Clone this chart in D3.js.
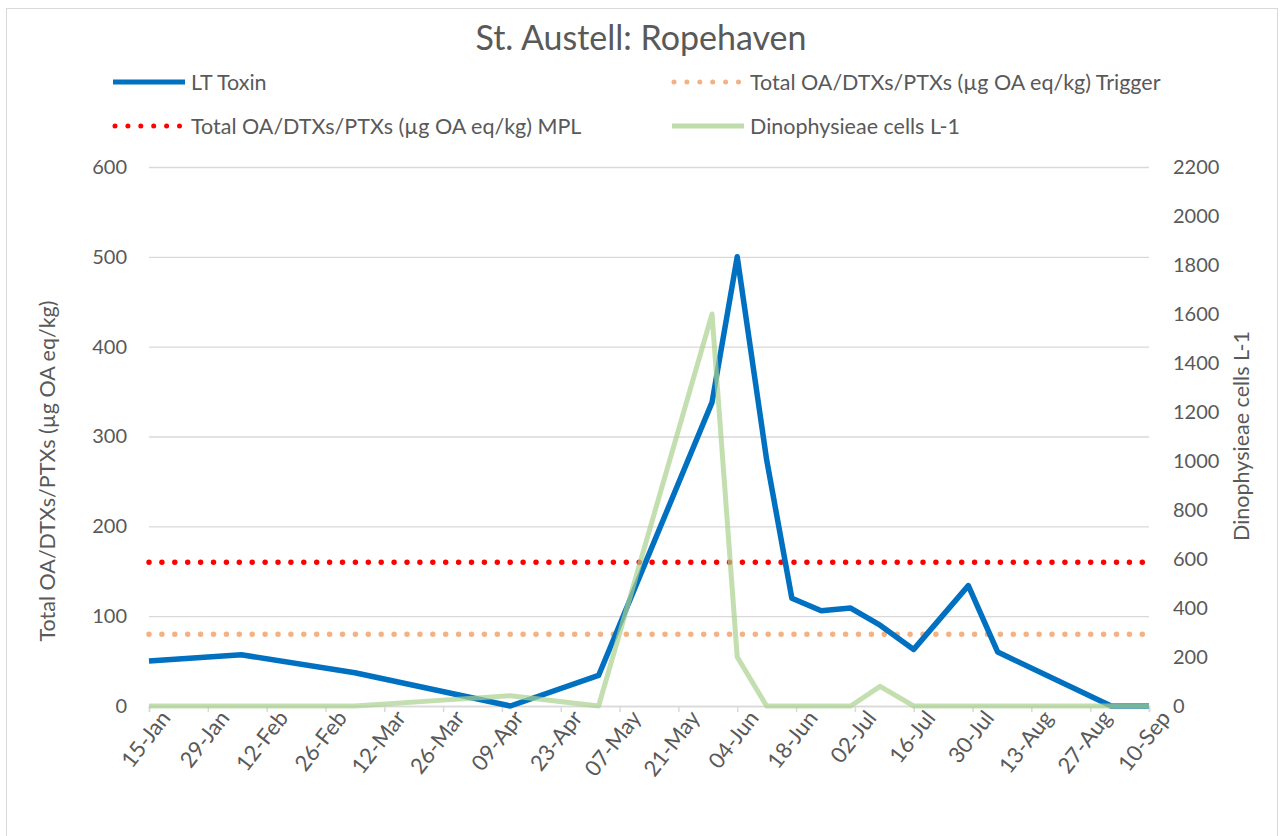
<!DOCTYPE html>
<html>
<head>
<meta charset="utf-8">
<script src="https://cdn.jsdelivr.net/npm/d3@7"></script>
<style>
  body { margin: 0; background: #fff; }
  text { font-family: Lato, "Open Sans", sans-serif; }
</style>
</head>
<body>
<div id="chart"></div>
<script>
// sample dates and values
var sampleDates = ["2021-01-15", "2021-02-06", "2021-03-05", "2021-03-27", "2021-04-11", "2021-05-02",
    "2021-05-29", "2021-06-04", "2021-06-11", "2021-06-17", "2021-06-24", "2021-07-01",
    "2021-07-08", "2021-07-16", "2021-07-29", "2021-08-05", "2021-09-01", "2021-09-10"];
var ltToxin = [50, 57, 37, 15, 0, 34, 338, 500, 274, 120, 106, 109, 90, 63, 134, 60, 0, 0];
var dinoCells = [0, 0, 0, 25, 42, 0, 1600, 200, 0, 0, 0, 0, 80, 0, 0, 0, 0, 0];
var triggerLevel = 80;
var mplLevel = 160;
var tickDates = ["2021-01-15", "2021-01-29", "2021-02-12", "2021-02-26", "2021-03-12", "2021-03-26",
    "2021-04-09", "2021-04-23", "2021-05-07", "2021-05-21", "2021-06-04", "2021-06-18",
    "2021-07-02", "2021-07-16", "2021-07-30", "2021-08-13", "2021-08-27", "2021-09-10"];
var leftTicks = [0, 100, 200, 300, 400, 500, 600];
var rightTicks = [0, 200, 400, 600, 800, 1000, 1200, 1400, 1600, 1800, 2000, 2200];

var W = 1282, H = 836;
var margin = { top: 167, right: 133, bottom: 130, left: 149 },
    width = W - margin.left - margin.right,
    height = H - margin.top - margin.bottom;

var parse = d3.timeParse("%Y-%m-%d");
var data = sampleDates.map(function (d, i) {
    return { date: parse(d), toxin: ltToxin[i], cells: dinoCells[i] };
});

var svg = d3.select("#chart").append("svg")
    .attr("width", W)
    .attr("height", H);

// chart frame
svg.append("rect")
    .attr("x", 6.5).attr("y", 8.5)
    .attr("width", 1271).attr("height", 840)
    .attr("fill", "#fff")
    .attr("stroke", "#d9d9d9");

var g = svg.append("g")
    .attr("transform", "translate(" + margin.left + "," + margin.top + ")");

// scales
var x = d3.scaleTime()
    .domain([parse(tickDates[0]), parse(tickDates[tickDates.length - 1])])
    .range([0, width]);
var y = d3.scaleLinear().domain([0, 600]).range([height, 0]);
var y2 = d3.scaleLinear().domain([0, 2200]).range([height, 0]);

// gridlines
g.append("g")
    .call(d3.axisLeft(y).tickValues(leftTicks).tickSize(-width).tickFormat(""))
    .call(function (s) { s.select(".domain").remove(); })
    .selectAll(".tick line").attr("stroke", "#d9d9d9").attr("stroke-width", 1.3);

// left axis labels
g.append("g")
    .call(d3.axisLeft(y).tickValues(leftTicks).tickSize(0).tickPadding(22))
    .call(function (s) { s.select(".domain").remove(); })
    .selectAll("text")
    .attr("fill", "#595959")
    .style("font-size", "20px");

// right axis labels
g.append("g")
    .attr("transform", "translate(" + width + ",0)")
    .call(d3.axisRight(y2).tickValues(rightTicks).tickSize(0).tickPadding(24).tickFormat(d3.format("d")))
    .call(function (s) { s.select(".domain").remove(); })
    .selectAll("text")
    .attr("fill", "#595959")
    .style("font-size", "20px");

// x axis
var xAxis = g.append("g")
    .attr("transform", "translate(0," + height + ")")
    .call(d3.axisBottom(x)
        .tickValues(tickDates.map(parse))
        .tickSize(6)
        .tickFormat(d3.timeFormat("%d-%b")));
xAxis.select(".domain").attr("stroke", "#d9d9d9").attr("stroke-width", 1.5);
xAxis.selectAll(".tick line").attr("stroke", "#d9d9d9").attr("stroke-width", 1.5);
xAxis.selectAll("text")
    .attr("fill", "#595959")
    .style("font-size", "22px")
    .attr("text-anchor", "end")
    .attr("dy", "0.35em")
    .attr("transform", "translate(9,2) rotate(-52)");

// threshold lines
function hline(val, color) {
    g.append("line")
        .attr("x1", 0).attr("x2", width)
        .attr("y1", y(val)).attr("y2", y(val))
        .attr("stroke", color)
        .attr("stroke-width", 5.5)
        .attr("stroke-linecap", "round")
        .attr("stroke-dasharray", "0,12.9");
}
hline(triggerLevel, "#f4b183");
hline(mplLevel, "#ff0000");

// series lines
var lineToxin = d3.line()
    .x(function (d) { return x(d.date); })
    .y(function (d) { return y(d.toxin); });
var lineCells = d3.line()
    .x(function (d) { return x(d.date); })
    .y(function (d) { return y2(d.cells); });

g.append("path")
    .datum(data)
    .attr("d", lineToxin)
    .attr("fill", "none")
    .attr("stroke", "#0070c0")
    .attr("stroke-width", 5.5)
    .attr("stroke-linejoin", "round");

g.append("path")
    .datum(data)
    .attr("d", lineCells)
    .attr("fill", "none")
    .attr("stroke", "#a9d18e")
    .attr("stroke-opacity", 0.7)
    .attr("stroke-width", 5)
    .attr("stroke-linejoin", "round");

// title
svg.append("text")
    .attr("x", 641).attr("y", 50)
    .attr("text-anchor", "middle")
    .attr("fill", "#595959")
    .style("font-size", "34px")
    .text("St. Austell: Ropehaven");

// axis titles
svg.append("text")
    .attr("transform", "translate(55,471) rotate(-90)")
    .attr("text-anchor", "middle")
    .attr("fill", "#595959")
    .style("font-size", "21.5px")
    .text("Total OA/DTXs/PTXs (µg OA eq/kg)");
svg.append("text")
    .attr("transform", "translate(1249,436) rotate(-90)")
    .attr("text-anchor", "middle")
    .attr("fill", "#595959")
    .style("font-size", "21.5px")
    .text("Dinophysieae cells L-1");

// legend
var legendItems = [
    { label: "LT Toxin", color: "#0070c0", dotted: false, x: 113, y: 82 },
    { label: "Total OA/DTXs/PTXs (µg OA eq/kg) Trigger", color: "#f4b183", dotted: true, x: 672, y: 82 },
    { label: "Total OA/DTXs/PTXs (µg OA eq/kg) MPL", color: "#ff0000", dotted: true, x: 113, y: 126 },
    { label: "Dinophysieae cells L-1", color: "#a9d18e", dotted: false, x: 672, y: 126 }
];
var legend = svg.selectAll(".legend")
    .data(legendItems)
    .enter().append("g")
    .attr("class", "legend")
    .attr("transform", function (d) { return "translate(" + d.x + "," + d.y + ")"; });
legend.append("line")
    .attr("x1", function (d) { return d.dotted ? 2 : 0; })
    .attr("x2", 72)
    .attr("stroke", function (d) { return d.color; })
    .attr("stroke-opacity", function (d) { return d.color == "#a9d18e" ? 0.75 : 1; })
    .attr("stroke-width", 5)
    .attr("stroke-linecap", function (d) { return d.dotted ? "round" : "butt"; })
    .attr("stroke-dasharray", function (d) { return d.dotted ? "0,12.9" : null; });
legend.append("text")
    .attr("x", 78)
    .attr("dy", "0.35em")
    .attr("fill", "#595959")
    .style("font-size", "21.5px")
    .text(function (d) { return d.label; });
</script>
</body>
</html>
